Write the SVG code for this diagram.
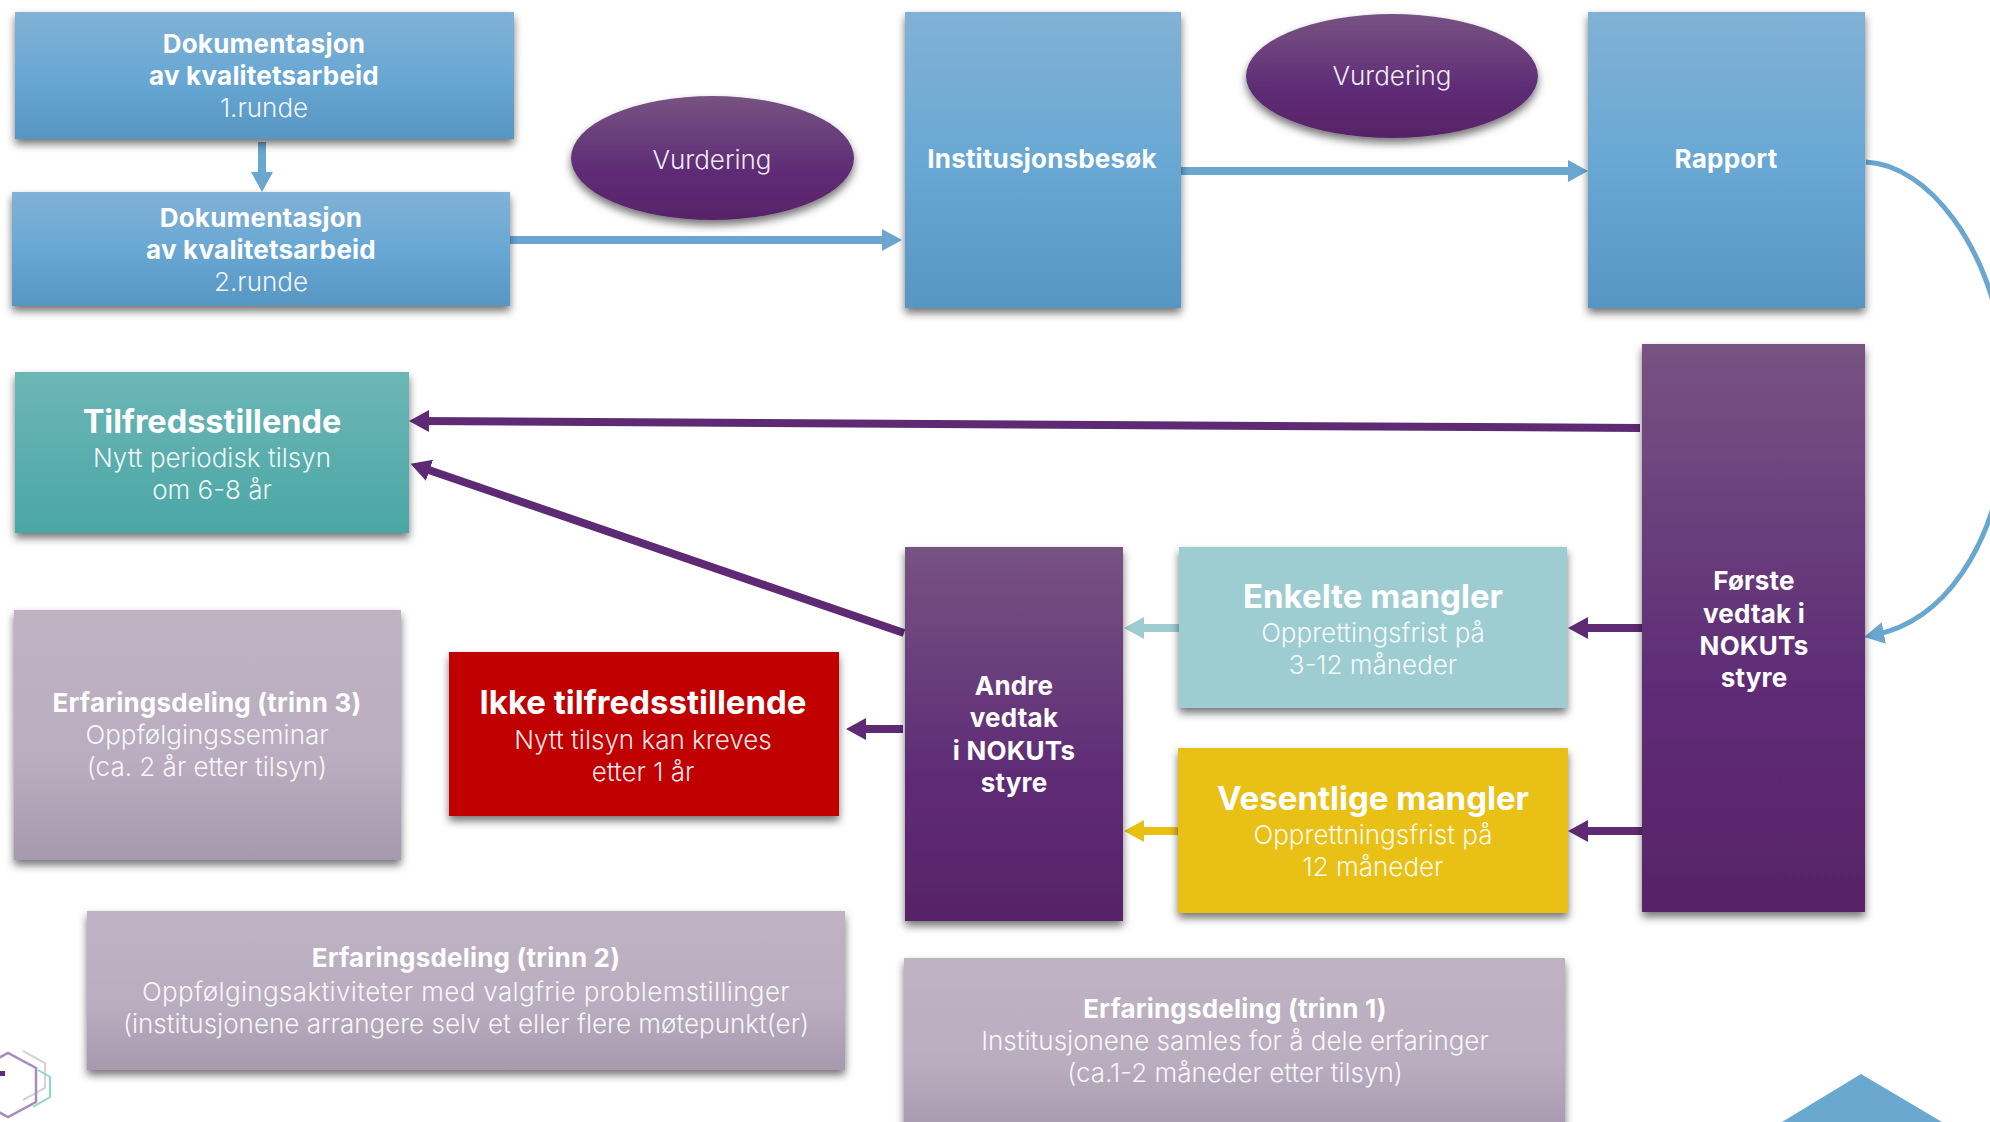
<svg xmlns="http://www.w3.org/2000/svg" width="1990" height="1122" viewBox="0 0 1990 1122">
<style>
text{font-family:"Inter","Open Sans","Liberation Sans",sans-serif;text-anchor:middle;fill:#fff}
.b{font-weight:700;font-size:26px;letter-spacing:.2px}
.l{font-weight:300;font-size:26px;fill-opacity:.92}
.t{font-weight:700;font-size:33px}
.bar{fill:none;stroke-width:8}
.curve{stroke-width:5}
.blue{stroke:#69a6d0}.pur{stroke:#5e2a74}.teal{stroke:#9ecdd1}.yel{stroke:#e8c014}
</style>
<defs>
<linearGradient id="gBlue" x1="0" y1="0" x2="0" y2="1"><stop offset="0" stop-color="#82b1d5"/><stop offset=".5" stop-color="#69a8d4"/><stop offset="1" stop-color="#5796c2"/></linearGradient>
<linearGradient id="gPur" x1="0" y1="0" x2="0" y2="1"><stop offset="0" stop-color="#775382"/><stop offset=".6" stop-color="#5f2c76"/><stop offset="1" stop-color="#582368"/></linearGradient>
<linearGradient id="gTeal" x1="0" y1="0" x2="0" y2="1"><stop offset="0" stop-color="#6db6b6"/><stop offset="1" stop-color="#4aa7a5"/></linearGradient>
<linearGradient id="gGray" x1="0" y1="0" x2="0" y2="1"><stop offset="0" stop-color="#bfb2c3"/><stop offset=".6" stop-color="#b9adbf"/><stop offset="1" stop-color="#a799ae"/></linearGradient>
<filter id="sh" x="-10%" y="-10%" width="120%" height="125%"><feDropShadow dx="0" dy="5" stdDeviation="4" flood-color="#000" flood-opacity=".55"/></filter>
<marker id="mBlue" markerUnits="userSpaceOnUse" markerWidth="22" markerHeight="24" refX="10" refY="12" orient="auto"><path d="M0 1L20 12L0 23Z" fill="#69a6d0"/></marker>
<marker id="mPur" markerUnits="userSpaceOnUse" markerWidth="22" markerHeight="24" refX="10" refY="12" orient="auto"><path d="M0 1L20 12L0 23Z" fill="#5e2a74"/></marker>
<marker id="mTeal" markerUnits="userSpaceOnUse" markerWidth="22" markerHeight="24" refX="10" refY="12" orient="auto"><path d="M0 1L20 12L0 23Z" fill="#9ecdd1"/></marker>
<marker id="mYel" markerUnits="userSpaceOnUse" markerWidth="22" markerHeight="24" refX="10" refY="12" orient="auto"><path d="M0 1L20 12L0 23Z" fill="#e8c014"/></marker>
</defs>
<rect width="1990" height="1122" fill="#fff"/>
<g id="logo" fill="none" stroke-width="2">
<path d="M23 1051L45 1063V1088L23 1100" stroke="#d4d2d6"/>
<path d="M38 1070L50 1077V1097L33 1107" stroke="#8fd6c8"/>
<path d="M-20 1068L8 1053L36 1068V1102L8 1117L-20 1102Z" stroke="#a68cbc" stroke-width="2.5"/>
<rect x="0" y="1071" width="5" height="5" fill="#5e2a74" stroke="none"/>
</g>
<polygon id="corner" points="1861,1074 1942,1122 1782,1122" fill="#6aa8d0"/>
<g id="connectors">
<path class="bar blue" d="M262 142V182" marker-end="url(#mBlue)"/>
<path class="bar blue" d="M510 240H892" marker-end="url(#mBlue)"/>
<path class="bar blue" d="M1180 171H1578" marker-end="url(#mBlue)"/>
<path class="bar blue curve" d="M1866 162C1930 165 1990 250 2002 345C2010 405 2010 430 2002 470C1990 540 1950 620 1874 635" marker-end="url(#mBlue)"/>
<path class="bar pur" d="M1640 428L419 421" marker-end="url(#mPur)"/>
<path class="bar pur" d="M904 633L420 467" marker-end="url(#mPur)"/>
<path class="bar pur" d="M1642 628H1578" marker-end="url(#mPur)"/>
<path class="bar pur" d="M1642 831H1578" marker-end="url(#mPur)"/>
<path class="bar teal" d="M1179 628H1134" marker-end="url(#mTeal)"/>
<path class="bar yel" d="M1178 831H1134" marker-end="url(#mYel)"/>
<path class="bar pur" d="M903 729H856" marker-end="url(#mPur)"/>
</g>
<g id="dok1"><rect x="15" y="12" width="499" height="127" fill="url(#gBlue)" filter="url(#sh)"/>
<text class="b" x="264" y="53">Dokumentasjon</text><text class="b" x="264" y="85">av kvalitetsarbeid</text><text class="l" x="264" y="117">1.runde</text></g>
<g id="dok2"><rect x="12" y="192" width="498" height="114" fill="url(#gBlue)" filter="url(#sh)"/>
<text class="b" x="261" y="227">Dokumentasjon</text><text class="b" x="261" y="259">av kvalitetsarbeid</text><text class="l" x="261" y="291">2.runde</text></g>
<g id="vurd1"><ellipse cx="712.5" cy="158" rx="141.5" ry="62" fill="url(#gPur)" filter="url(#sh)"/><text class="l" x="712" y="169">Vurdering</text></g>
<g id="besok"><rect x="905" y="12" width="276" height="296" fill="url(#gBlue)" filter="url(#sh)"/><text class="b" x="1042" y="168">Institusjonsbesøk</text></g>
<g id="vurd2"><ellipse cx="1392" cy="76" rx="146" ry="62" fill="url(#gPur)" filter="url(#sh)"/><text class="l" x="1392" y="85">Vurdering</text></g>
<g id="rapport"><rect x="1588" y="12" width="277" height="296" fill="url(#gBlue)" filter="url(#sh)"/><text class="b" x="1726" y="168">Rapport</text></g>
<g id="forste"><rect x="1642" y="344" width="223" height="568" fill="url(#gPur)" filter="url(#sh)"/>
<text class="b" x="1754" y="590">Første</text><text class="b" x="1754" y="623">vedtak i</text><text class="b" x="1754" y="655">NOKUTs</text><text class="b" x="1754" y="687">styre</text></g>
<g id="tilfreds"><rect x="15" y="372" width="394" height="161" fill="url(#gTeal)" filter="url(#sh)"/>
<text class="t" x="212" y="433" style="font-size:32.5px">Tilfredsstillende</text><text class="l" x="212" y="467">Nytt periodisk tilsyn</text><text class="l" x="212" y="499">om 6-8 år</text></g>
<g id="andre"><rect x="905" y="547" width="218" height="374" fill="url(#gPur)" filter="url(#sh)"/>
<text class="b" x="1014" y="695">Andre</text><text class="b" x="1014" y="727">vedtak</text><text class="b" x="1014" y="760">i NOKUTs</text><text class="b" x="1014" y="792">styre</text></g>
<g id="enkelte"><rect x="1179" y="547" width="388" height="161" fill="#9ecdd1" filter="url(#sh)"/>
<text class="t" x="1373" y="608">Enkelte mangler</text><text class="l" x="1373" y="642">Opprettingsfrist på</text><text class="l" x="1373" y="674">3-12 måneder</text></g>
<g id="vesentlige"><rect x="1178" y="748" width="390" height="165" fill="#e8c014" filter="url(#sh)"/>
<text class="t" x="1373" y="810">Vesentlige mangler</text><text class="l" x="1373" y="844">Opprettningsfrist på</text><text class="l" x="1373" y="876">12 måneder</text></g>
<g id="ikke"><rect x="449" y="652" width="390" height="164" fill="#c00000" filter="url(#sh)"/>
<text class="t" x="643" y="714">Ikke tilfredsstillende</text><text class="l" x="643" y="749">Nytt tilsyn kan kreves</text><text class="l" x="643" y="781">etter 1 år</text></g>
<g id="erf3"><rect x="14" y="610" width="387" height="250" fill="url(#gGray)" filter="url(#sh)"/>
<text class="b" x="207" y="712">Erfaringsdeling (trinn 3)</text><text class="l" x="207" y="744">Oppfølgingsseminar</text><text class="l" x="207" y="776">(ca. 2 år etter tilsyn)</text></g>
<g id="erf2"><rect x="87" y="911" width="758" height="159" fill="url(#gGray)" filter="url(#sh)"/>
<text class="b" x="466" y="967">Erfaringsdeling (trinn 2)</text><text class="l" x="466" y="1001" style="letter-spacing:.35px">Oppfølgingsaktiviteter med valgfrie problemstillinger</text><text class="l" x="466" y="1033">(institusjonene arrangere selv et eller flere møtepunkt(er)</text></g>
<g id="erf1"><rect x="904" y="958" width="661" height="174" fill="url(#gGray)" filter="url(#sh)"/>
<text class="b" x="1235" y="1018">Erfaringsdeling (trinn 1)</text><text class="l" x="1235" y="1050">Institusjonene samles for å dele erfaringer</text><text class="l" x="1235" y="1082">(ca.1-2 måneder etter tilsyn)</text></g>
</svg>
